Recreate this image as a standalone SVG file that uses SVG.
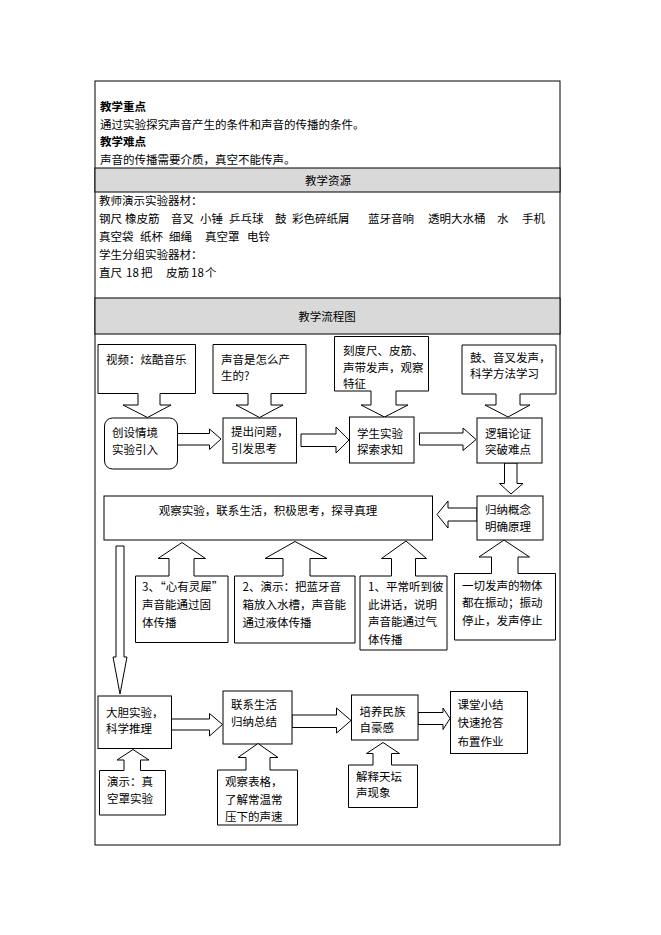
<svg xmlns="http://www.w3.org/2000/svg" width="661" height="935" viewBox="0 0 661 935">
<style>
.s{fill:#fff;stroke:#000;stroke-width:1}
.g{fill:#d9d9d9;stroke:#000;stroke-width:1}
text{font-family:"Noto Sans CJK SC","Liberation Sans",sans-serif;font-size:11.5px;fill:#000}
.b{font-weight:bold}
.c{text-anchor:middle}
</style>
<rect width="661" height="935" fill="#fff"/>
<g id="table">
<rect x="95" y="81" width="465" height="764" fill="#fff" stroke="#000"/>
<rect class="g" x="95" y="168" width="465" height="24"/>
<rect class="g" x="95" y="298" width="465" height="36"/>
</g>
<g id="top-text">
<text class="b" x="100" y="110.5">教学重点</text>
<text x="100" y="128.5">通过实验探究声音产生的条件和声音的传播的条件。</text>
<text class="b" x="100" y="146">教学难点</text>
<text x="100" y="163.5">声音的传播需要介质，真空不能传声。</text>
<text class="c" x="328" y="184.5">教学资源</text>
<text x="99" y="205">教师演示实验器材：</text>
<text y="222.5"><tspan x="99">钢尺</tspan><tspan x="125">橡皮筋</tspan><tspan x="171">音叉</tspan><tspan x="200">小锤</tspan><tspan x="229">乒乓球</tspan><tspan x="275">鼓</tspan><tspan x="292">彩色碎纸屑</tspan><tspan x="368">蓝牙音响</tspan><tspan x="428">透明大水桶</tspan><tspan x="497">水</tspan><tspan x="522">手机</tspan></text>
<text y="240.5"><tspan x="99">真空袋</tspan><tspan x="140">纸杯</tspan><tspan x="169">细绳</tspan><tspan x="205">真空罩</tspan><tspan x="247">电铃</tspan></text>
<text x="99" y="258.5">学生分组实验器材：</text>
<text y="277"><tspan x="99">直尺</tspan><tspan x="126">18</tspan><tspan x="141">把</tspan><tspan x="166">皮筋</tspan><tspan x="191">18</tspan><tspan x="205">个</tspan></text>
<text class="c" x="327" y="320.5">教学流程图</text>
</g>
<g id="connectors">
<polygon class="s" points="177,433.5 209.5,433.5 209.5,429 221,439 209.5,449.5 209.5,445 177,445"/>
<polygon class="s" points="301,434 336,434 336,427 349,440 336,453 336,446.5 301,446.5"/>
<polygon class="s" points="419.5,433 463,433 463,428 476,439.5 463,450.5 463,445 419.5,445"/>
<polygon class="s" points="504.5,463 517,463 517,483.5 523,483.5 511,494 499.5,483.5 504.5,483.5"/>
<polygon class="s" points="477,508 448,508 448,501 437,514.5 448,528 448,521 477,521"/>
<polygon class="s" points="116,546 124,546 124,657 127,657 120,694 113,657 116,657"/>
<polygon class="s" points="171.5,719 209.5,719 209.5,713.5 222.5,724.5 209.5,736 209.5,730 171.5,730"/>
<polygon class="s" points="292,715 336.5,715 336.5,708 351,720.5 336.5,733 336.5,727.5 292,727.5"/>
<polygon class="s" points="418,712.5 443,712.5 443,708 450,718.5 443,729.5 443,724.5 418,724.5"/>
</g>
<g id="n-video">
<path class="s" d="M98,344.5H195.5V393.5H160V405H171L147.5,417.5L123,405H138V393.5H98Z"/>
<text x="106" y="364">视频：炫酷音乐</text>
</g>
<g id="n-question">
<path class="s" d="M213,344.5H306V393.5H271V405H283L259.5,417.5L236,405H248V393.5H213Z"/>
<text x="221" y="364">声音是怎么产</text>
<text x="221" y="379.5">生的?</text>
</g>
<g id="n-ruler">
<path class="s" d="M334.5,336.5H428.5V391H396V405H408L384.5,417L361,405H371V391H334.5Z"/>
<text x="343" y="354.5">刻度尺、皮筋、</text>
<text x="343" y="371.5">声带发声，观察</text>
<text x="343" y="388">特征</text>
</g>
<g id="n-drum">
<path class="s" d="M462,345H556V394H520V405H530L508,417L485,405H496V394H462Z"/>
<text x="470" y="361.5">鼓、音叉发声，</text>
<text x="470" y="378">科学方法学习</text>
</g>
<g id="n-intro">
<rect class="s" x="104.5" y="418" width="73" height="51" rx="8"/>
<text x="112" y="436.5">创设情境</text>
<text x="112" y="454">实验引入</text>
</g>
<g id="n-ask">
<rect class="s" x="223" y="418" width="73.5" height="45"/>
<text x="231" y="435.5">提出问题，</text>
<text x="231" y="452.5">引发思考</text>
</g>
<g id="n-explore">
<rect class="s" x="349.5" y="417" width="64.5" height="46"/>
<text x="357" y="437.5">学生实验</text>
<text x="357" y="453.5">探索求知</text>
</g>
<g id="n-logic">
<rect class="s" x="477" y="418" width="65" height="45"/>
<text x="485" y="437.5">逻辑论证</text>
<text x="485" y="454">突破难点</text>
</g>
<g id="n-observe">
<rect class="s" x="104" y="496" width="328.5" height="44"/>
<text class="c" x="268" y="514.5">观察实验，联系生活，积极思考，探寻真理</text>
</g>
<g id="n-induce">
<rect class="s" x="477" y="496" width="66" height="44"/>
<text x="485" y="513.5">归纳概念</text>
<text x="485" y="530.5">明确原理</text>
</g>
<g id="n-solid">
<path class="s" d="M135.5,576H169V558.5H158L182,542.5L205.5,558.5H194V576H228V642.5H135.5Z"/>
<text x="142" y="590.5">3、“心有灵犀”</text>
<text x="142" y="608.5">声音能通过固</text>
<text x="142" y="626.5">体传播</text>
</g>
<g id="n-liquid">
<path class="s" d="M234.5,576H283V558.5H265L295,541.5L327,558.5H310V576H355V643H234.5Z"/>
<text x="242.5" y="591">2、演示：把蓝牙音</text>
<text x="242.5" y="609">箱放入水槽，声音能</text>
<text x="242.5" y="627">通过液体传播</text>
</g>
<g id="n-gas">
<path class="s" d="M360,576H391.5V558.5H381.5L406,541L426.5,558.5H415.5V576H447V650H360Z"/>
<text x="368" y="591">1、平常听到彼</text>
<text x="368" y="608.5">此讲话，说明</text>
<text x="368" y="626">声音能通过气</text>
<text x="368" y="643.5">体传播</text>
</g>
<g id="n-vibrate">
<path class="s" d="M454.5,573.5H491.5V557H479L504,540L529.5,557H518V573.5H555.5V640H454.5Z"/>
<text x="462" y="589.5">一切发声的物体</text>
<text x="462" y="607">都在振动；振动</text>
<text x="462" y="624.5">停止，发声停止</text>
</g>
<g id="n-bold">
<rect class="s" x="98" y="696" width="73.5" height="52.5"/>
<text x="106" y="716.5">大胆实验，</text>
<text x="106" y="733">科学推理</text>
</g>
<g id="n-summary">
<rect class="s" x="223" y="691" width="69" height="53"/>
<text x="231" y="708.5">联系生活</text>
<text x="231" y="726">归纳总结</text>
</g>
<g id="n-pride">
<rect class="s" x="351.5" y="695" width="66.5" height="45"/>
<text x="359.5" y="716">培养民族</text>
<text x="359.5" y="732">自豪感</text>
</g>
<g id="n-class">
<rect class="s" x="450.5" y="691.5" width="77" height="62"/>
<text x="457.5" y="708.5">课堂小结</text>
<text x="457.5" y="727">快速抢答</text>
<text x="457.5" y="745.5">布置作业</text>
</g>
<g id="n-vacuum">
<path class="s" d="M99.5,770.5H124V760H117L133,749.5L149,760H140.5V770.5H165.5V815H99.5Z"/>
<text x="107" y="785.5">演示：真</text>
<text x="107" y="803">空罩实验</text>
</g>
<g id="n-table">
<path class="s" d="M217.5,770H246V757.5H238L258,743.5L278,757.5H270V770H297.5V825H217.5Z"/>
<text x="225" y="785.5">观察表格，</text>
<text x="225" y="803.5">了解常温常</text>
<text x="225" y="821">压下的声速</text>
</g>
<g id="n-temple">
<path class="s" d="M348.5,765H373V753.5H366.5L383,742.5L399.5,753.5H391.5V765H417.5V807.5H348.5Z"/>
<text x="356" y="781">解释天坛</text>
<text x="356" y="797">声现象</text>
</g>
</svg>
